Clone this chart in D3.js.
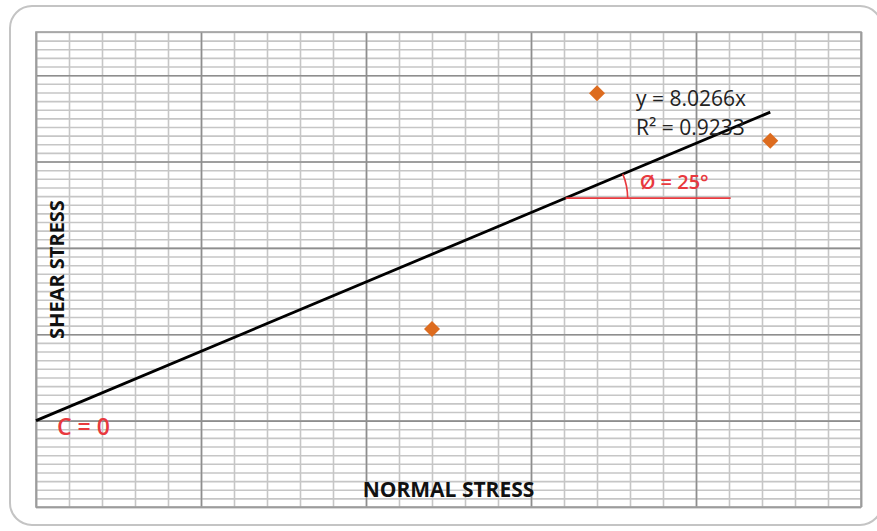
<!DOCTYPE html>
<html>
<head>
<meta charset="utf-8">
<script src="https://cdn.jsdelivr.net/npm/d3@7"></script>
<style>
  body { margin: 0; background: #fff; }
  text { font-family: "Open Sans", sans-serif; }
</style>
</head>
<body>
<div id="chart-area"></div>
<script>
// Test points (normal stress vs shear stress)
var normalStress = [12, 17, 22.25];
var shearStress = [53, 189.5, 162];

// Trendline through origin
var trendSlope = 8.0266;
var rSquared = 0.9233;
var frictionAngle = 25;
var cohesion = 0;

// where the angle marker sits on the line (normal stress values)
var angleFromX = 16.05;
var angleToX = 21.05;

// Grid steps
var xMinorTicks = d3.range(0, 26, 1);
var xMajorTicks = d3.range(0, 26, 5);
var yMinorTicks = d3.range(-50, 226, 5);
var yMajorTicks = d3.range(-50, 226, 50);

var W = 877, H = 531;
var margin = {top: 32, right: 16, bottom: 24, left: 36},
    width = W - margin.left - margin.right,
    height = H - margin.top - margin.bottom;

var svg = d3.select("#chart-area").append("svg")
    .attr("width", W)
    .attr("height", H);

// Card outline
svg.append("rect")
    .attr("x", 10).attr("y", 6)
    .attr("width", 872).attr("height", 519)
    .attr("rx", 22).attr("ry", 22)
    .attr("fill", "#fff")
    .attr("stroke", "#c4c4c4")
    .attr("stroke-width", 2);

var g = svg.append("g")
    .attr("transform", "translate(" + margin.left + "," + margin.top + ")");

var x = d3.scaleLinear().domain([0, 25]).range([0, width]);
var y = d3.scaleLinear().domain([-50, 225]).range([height, 0]);

// Minor grid
g.append("g")
    .attr("class", "grid minor")
    .attr("transform", "translate(0," + height + ")")
    .call(d3.axisBottom(x).tickValues(xMinorTicks).tickSize(-height).tickFormat(""));
g.append("g")
    .attr("class", "grid minor")
    .call(d3.axisLeft(y).tickValues(yMinorTicks).tickSize(-width).tickFormat(""));

// Major grid
g.append("g")
    .attr("class", "grid major")
    .attr("transform", "translate(0," + height + ")")
    .call(d3.axisBottom(x).tickValues(xMajorTicks).tickSize(-height).tickFormat(""));
g.append("g")
    .attr("class", "grid major")
    .call(d3.axisLeft(y).tickValues(yMajorTicks).tickSize(-width).tickFormat(""));

g.selectAll(".grid .domain").remove();
g.selectAll(".grid.minor line").attr("stroke", "#c6c6c6").attr("stroke-width", 1.6);
g.selectAll(".grid.major line").attr("stroke", "#8e8e8e").attr("stroke-width", 1.6);

// Plot border
g.append("rect")
    .attr("width", width).attr("height", height)
    .attr("fill", "none")
    .attr("stroke", "#a0a0a0")
    .attr("stroke-width", 1.6);

// Trendline
var xMax = d3.max(normalStress);
g.append("line")
    .attr("x1", x(0)).attr("y1", y(cohesion))
    .attr("x2", x(xMax)).attr("y2", y(cohesion + trendSlope * xMax))
    .attr("stroke", "#000")
    .attr("stroke-width", 2.8);

// Angle marker
var red = "#e8393e";
var ax0 = x(angleFromX), ay0 = y(trendSlope * angleFromX);
g.append("line")
    .attr("x1", ax0).attr("y1", ay0)
    .attr("x2", x(angleToX)).attr("y2", ay0)
    .attr("stroke", red)
    .attr("stroke-width", 1.6);

var lineAngle = Math.atan2(ay0 - y(trendSlope * angleToX), x(angleToX) - ax0);
var arcR = 62;
g.append("path")
    .attr("transform", "translate(" + ax0 + "," + ay0 + ")")
    .attr("d", d3.arc()
        .innerRadius(arcR).outerRadius(arcR)
        .startAngle(Math.PI / 2 - lineAngle)
        .endAngle(Math.PI / 2))
    .attr("fill", "none")
    .attr("stroke", red)
    .attr("stroke-width", 1.6);

g.append("text")
    .attr("x", ax0 + 74).attr("y", ay0 - 9)
    .attr("fill", red)
    .attr("font-size", 20)
    .attr("font-weight", 600)
    .text("Ø = " + frictionAngle + "°");

// Points
var pts = normalStress.map((d, i) => { return {x: d, y: shearStress[i]}; });
g.selectAll(".pt").data(pts).enter().append("path")
    .attr("class", "pt")
    .attr("d", d3.symbol().type(d3.symbolSquare).size(128))
    .attr("transform", (d) => { return "translate(" + x(d.x) + "," + y(d.y) + ") rotate(45)"; })
    .attr("fill", "#dd6c1f");

// Equation labels
g.append("text")
    .attr("x", 600).attr("y", 74)
    .attr("fill", "#222")
    .attr("font-size", 21)
    .attr("font-weight", 500)
    .text("y = " + trendSlope + "x");
g.append("text")
    .attr("x", 600).attr("y", 103)
    .attr("fill", "#222")
    .attr("font-size", 21)
    .attr("font-weight", 500)
    .text("R² = " + rSquared);

// Cohesion label
g.append("text")
    .attr("x", 21).attr("y", y(cohesion) + 14)
    .attr("fill", red)
    .attr("font-size", 23)
    .attr("font-weight", 600)
    .text("C = " + cohesion);

// Axis titles
g.append("text")
    .attr("x", width / 2).attr("y", height - 10)
    .attr("text-anchor", "middle")
    .attr("font-size", 21)
    .attr("font-weight", "bold")
    .attr("fill", "#111")
    .text("NORMAL STRESS");

g.append("text")
    .attr("transform", "rotate(-90)")
    .attr("x", -height / 2).attr("y", 28)
    .attr("text-anchor", "middle")
    .attr("font-size", 20)
    .attr("font-weight", "bold")
    .attr("fill", "#111")
    .text("SHEAR STRESS");
</script>
</body>
</html>
